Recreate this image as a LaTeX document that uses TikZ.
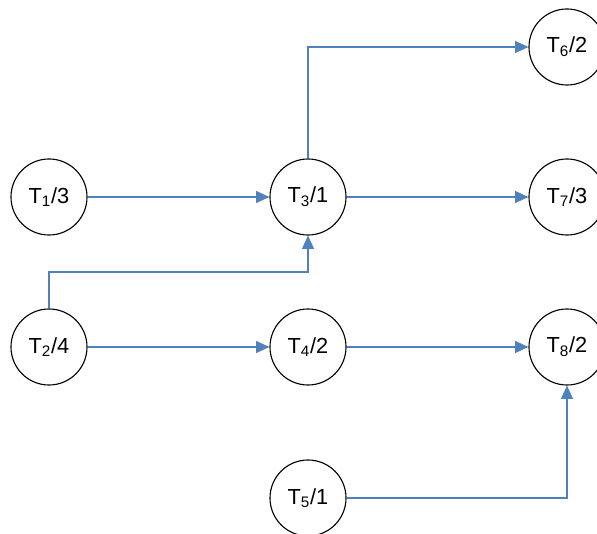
\documentclass[tikz,border=0pt]{standalone}
\usepackage{fontspec}
\setmainfont{Liberation Sans}
\usepackage{xcolor}
\usepackage{tikz}
\usetikzlibrary{arrows.meta,positioning}

\definecolor{flowblue}{RGB}{79,129,189}

\begin{document}
\begin{tikzpicture}[x=0.025cm, y=0.025cm,
  task/.style={draw, circle, line width=0.8pt, minimum size=1.9cm, inner sep=0pt,
    font=\fontsize{15.5}{18}\selectfont},
  flow/.style={draw=flowblue, line width=1pt,
    -{Triangle[length=9.5pt, width=8.5pt, fill=flowblue]}}]
\useasboundingbox (0,0) rectangle (597,533);
% tasks
\node[task] (t1) at (49,336) {T\textsubscript{1}/3};
\node[task] (t3) at (308,336) {T\textsubscript{3}/1};
\node[task] (t6) at (567,486) {T\textsubscript{6}/2};
\node[task] (t7) at (567,336) {T\textsubscript{7}/3};
\node[task] (t2) at (49,186) {T\textsubscript{2}/4};
\node[task] (t4) at (308,186) {T\textsubscript{4}/2};
\node[task] (t8) at (567,186) {T\textsubscript{8}/2};
\node[task] (t5) at (308,35) {T\textsubscript{5}/1};
% bend point
\coordinate (k2) at (49,261);
% edges
\draw[flow] (t1) -- (t3);
\draw[flow] (t3) -- (t7);
\draw[flow] (t3.north) |- (t6.west);
\draw[flow] (t2.north) -- (k2) -| (t3.south);
\draw[flow] (t2) -- (t4);
\draw[flow] (t4) -- (t8);
\draw[flow] (t5.east) -| (t8.south);
\end{tikzpicture}
\end{document}
